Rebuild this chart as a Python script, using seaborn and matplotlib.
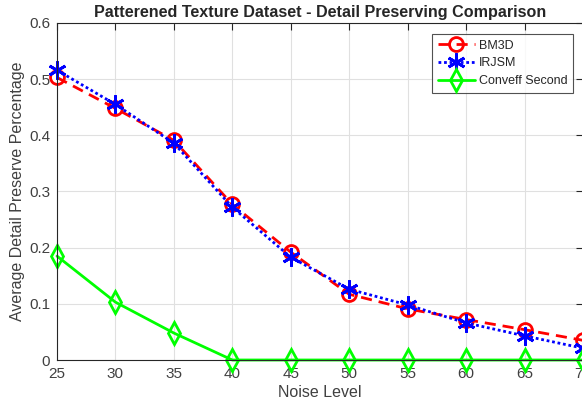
import matplotlib
matplotlib.use("Agg")
import matplotlib.pyplot as plt
import seaborn as sns
import pandas as pd

noise = [25, 30, 35, 40, 45, 50, 55, 60, 65, 70]
bm3d = [0.503, 0.448, 0.391, 0.277, 0.192, 0.117, 0.091, 0.072, 0.054, 0.035]
irjsm = [0.516, 0.455, 0.386, 0.272, 0.183, 0.126, 0.098, 0.066, 0.043, 0.021]
conveff = [0.185, 0.103, 0.048, 0.0, 0.0, 0.0, 0.0, 0.0, 0.0, 0.0]
xticks = [25, 30, 35, 40, 45, 50, 55, 60, 65, 70]
yticks = [0, 0.1, 0.2, 0.3, 0.4, 0.5, 0.6]

sns.set_style("white")
plt.rcParams['font.family'] = ['Liberation Sans', 'DejaVu Sans']

fig = plt.figure(figsize=(5.82, 4.08), dpi=100)
ax = fig.add_axes([57/582, 1 - 360/408, 526/582, (360 - 23)/408])

df = pd.DataFrame({"noise": noise, "BM3D": bm3d, "IRJSM": irjsm, "Conveff Second": conveff})

sns.lineplot(data=df, x="noise", y="BM3D", ax=ax, color="#ff0000", linestyle=(0, (4, 2.5)),
             linewidth=2, marker="o", markersize=10, markerfacecolor="none",
             markeredgecolor="#ff0000", markeredgewidth=2, label="BM3D", clip_on=False)
sns.lineplot(data=df, x="noise", y="IRJSM", ax=ax, color="#0000ff", linestyle=(0, (1, 1)),
             linewidth=2, marker=(6, 2, 0), markersize=13, markeredgecolor="#0000ff",
             markeredgewidth=2, label="IRJSM", clip_on=False)
sns.lineplot(data=df, x="noise", y="Conveff Second", ax=ax, color="#00ff00", linestyle="-",
             linewidth=2, marker="d", markersize=11, markerfacecolor="none",
             markeredgecolor="#00ff00", markeredgewidth=2, label="Conveff Second", clip_on=False)

ax.set_xlim(25, 70)
ax.set_ylim(0, 0.6)
ax.set_xticks(xticks)
ax.set_yticks(yticks)
ax.set_xticklabels([str(v) for v in xticks])
ax.set_yticklabels(["0", "0.1", "0.2", "0.3", "0.4", "0.5", "0.6"])
ax.grid(True, color="#e0e0e0", linewidth=0.8)
ax.set_axisbelow(True)
ax.tick_params(direction="in", top=True, right=True, length=5, width=0.8,
               labelsize=11, colors="#262626", labelcolor="#404040", pad=5)
for s in ax.spines.values():
    s.set_visible(True)
    s.set_color("#262626")
    s.set_linewidth(0.8)

ax.set_xlabel("Noise Level", fontsize=11.5, color="#404040", labelpad=3)
ax.set_ylabel("Average Detail Preserve Percentage", fontsize=11.5, color="#404040", labelpad=3)
ax.set_title("Patterened Texture Dataset - Detail Preserving Comparison", fontsize=11.6,
             fontweight="bold", pad=4)

leg = ax.legend(loc="upper right", bbox_to_anchor=(0.981, 0.967), fontsize=9,
                handlelength=3.0, frameon=True, fancybox=False, borderpad=0.45,
                labelspacing=0.45, handletextpad=0.3, borderaxespad=0)
leg.get_frame().set_edgecolor("#262626")
leg.get_frame().set_linewidth(0.8)

fig.savefig("out.png", dpi=100)
